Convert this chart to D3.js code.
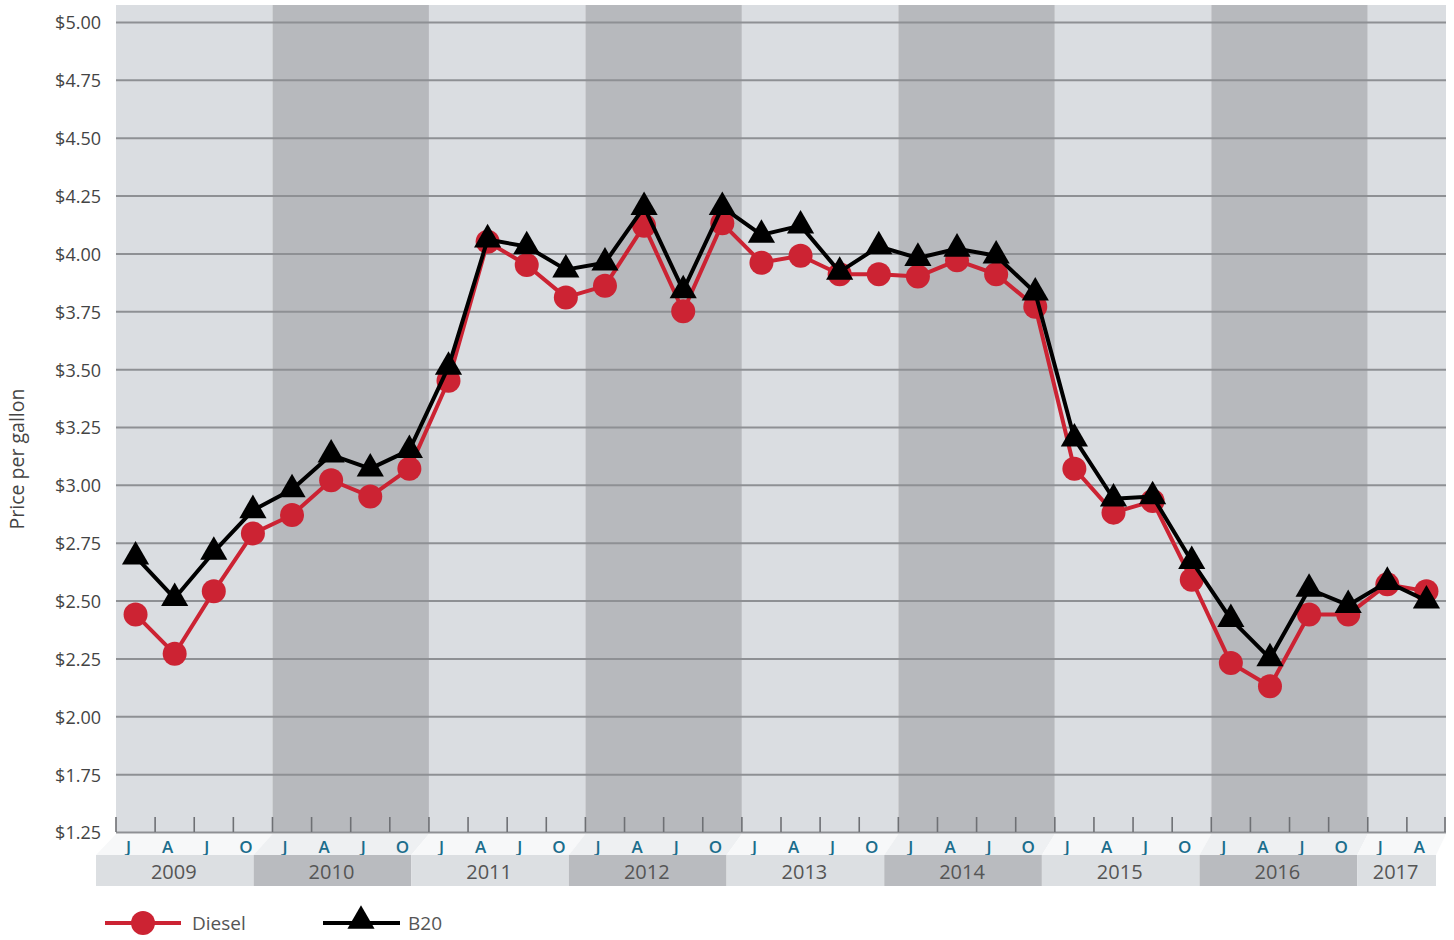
<!DOCTYPE html>
<html><head><meta charset="utf-8">
<script src="https://cdn.jsdelivr.net/npm/d3@7"></script>
<style>
html,body{margin:0;padding:0;background:#fff;}
svg{display:block;font-family:"Open Sans","Noto Sans",sans-serif;}
</style></head>
<body>
<svg id="chart" width="1454" height="940"></svg>
<script>
const years = ["2009","2010","2011","2012","2013","2014","2015","2016","2017"];
const quarterLetters = ["J","A","J","O"];
const quartersPerYear = [4,4,4,4,4,4,4,4,2];
const diesel = [2.44,2.27,2.54,2.79, 2.87,3.02,2.95,3.07, 3.45,4.05,3.95,3.81, 3.86,4.12,3.75,4.13,
                3.96,3.99,3.91,3.91, 3.90,3.97,3.91,3.77, 3.07,2.88,2.93,2.59, 2.23,2.13,2.44,2.44, 2.57,2.54];
const b20 = [2.69,2.51,2.71,2.89, 2.98,3.13,3.07,3.15, 3.51,4.06,4.03,3.93, 3.96,4.20,3.84,4.20,
             4.08,4.12,3.92,4.03, 3.98,4.02,3.99,3.83, 3.20,2.94,2.95,2.67, 2.42,2.25,2.55,2.48, 2.58,2.50];
const yTickValues = [1.5,1.75,2.0,2.25,2.5,2.75,3.0,3.25,3.5,3.75,4.0,4.25,4.5,4.75,5.0];
const yTickLabels = ["$1.25","$1.75","$2.00","$2.25","$2.50","$2.75","$3.00","$3.25","$3.50","$3.75","$4.00","$4.25","$4.50","$4.75","$5.00"];
const seriesNames = ["Diesel","B20"];

(function(){
const quarters = [];
years.forEach((yr,yi)=>{ for(let q=0;q<quartersPerYear[yi];q++) quarters.push({id:yr+"-"+q, year:yr, yi:yi, label:quarterLetters[q]}); });

const svg = d3.select("#chart");
const pLeft=116, pRight=1446, pTop=5, pBottom=832;
const x = d3.scaleBand().domain(quarters.map(d=>d.id)).range([pLeft,pRight]).padding(0);
const bw = x.bandwidth();
const y = d3.scaleLinear().domain([1.5,5]).range([pBottom,22]);
const cx = i => x(quarters[i].id)+bw/2;
const xb = d3.scaleLinear().domain([pLeft,pRight]).range([96,1436]);

const light="#dadde1", dark="#b7b9bd";

const yearInfo = years.map((yr,yi)=>{
  const qs = quarters.filter(q=>q.yi===yi);
  return {year:yr, yi:yi, x0:x(qs[0].id), x1:x(qs[qs.length-1].id)+bw};
});
svg.append("g").selectAll("rect").data(yearInfo).join("rect")
  .attr("x",d=>d.x0).attr("y",pTop).attr("width",d=>d.x1-d.x0).attr("height",pBottom-pTop)
  .attr("fill",d=>d.yi%2? dark: light);

svg.append("g").selectAll("line").data(yTickValues).join("line")
  .attr("x1",pLeft).attr("x2",pRight).attr("y1",d=>y(d)+0.5).attr("y2",d=>y(d)+0.5)
  .attr("stroke","#8e9094").attr("stroke-width",2);

svg.append("g").selectAll("text").data(yTickValues).join("text")
  .attr("x",101).attr("y",d=>y(d)+1).attr("dy","0.36em").attr("text-anchor","end")
  .attr("font-size",18).attr("fill","#444").text((d,i)=>yTickLabels[i]);

svg.append("text").attr("transform","translate(24,459) rotate(-90)").attr("text-anchor","middle")
  .attr("font-size",19.5).attr("fill","#444").text("Price per gallon");

const tickXs = quarters.map(q=>x(q.id)).concat([pRight-1]);
svg.append("g").selectAll("line").data(tickXs).join("line")
  .attr("x1",d=>d).attr("x2",d=>d).attr("y1",817).attr("y2",pBottom)
  .attr("stroke","#6e7074").attr("stroke-width",1.6);

svg.append("g").selectAll("path").data(yearInfo).join("path")
  .attr("d",d=>`M${d.x0},834 L${d.x1},834 L${xb(d.x1)},855 L${xb(d.x0)},855 Z`)
  .attr("fill",d=>d.yi%2? "#eef0f2":"#f7f8f9");

svg.append("g").selectAll("text").data(quarters).join("text")
  .attr("x",(d,i)=>cx(i)-7).attr("y",853).attr("text-anchor","middle")
  .attr("font-size",17).attr("font-weight",600).attr("fill","#1b6d8c").text(d=>d.label);

svg.append("g").selectAll("rect").data(yearInfo).join("rect")
  .attr("x",d=>xb(d.x0)).attr("y",855).attr("width",d=>xb(d.x1)-xb(d.x0)).attr("height",31)
  .attr("fill",d=>d.yi%2? "#b9bbbf":"#dcdfe2");
svg.append("g").selectAll("text").data(yearInfo).join("text")
  .attr("x",d=>(xb(d.x0)+xb(d.x1))/2-1).attr("y",879).attr("text-anchor","middle")
  .attr("font-size",20).attr("fill","#555").text(d=>d.year);

const lineGen = d3.line().x((d,i)=>cx(i)).y(d=>y(d));
const red="#cc2333";
svg.append("path").datum(diesel).attr("d",lineGen).attr("fill","none").attr("stroke",red).attr("stroke-width",4).attr("stroke-linejoin","round");
svg.append("g").selectAll("circle").data(diesel).join("circle")
  .attr("cx",(d,i)=>cx(i)).attr("cy",d=>y(d)).attr("r",12).attr("fill",red);

svg.append("path").datum(b20).attr("d",lineGen).attr("fill","none").attr("stroke","#000").attr("stroke-width",4).attr("stroke-linejoin","round");
const tri = d3.symbol().type(d3.symbolTriangle).size(320);
svg.append("g").selectAll("path").data(b20).join("path")
  .attr("transform",(d,i)=>`translate(${cx(i)},${y(d)})`).attr("d",tri).attr("fill","#000");

const lg = svg.append("g");
lg.append("line").attr("x1",105).attr("x2",181).attr("y1",923).attr("y2",923).attr("stroke",red).attr("stroke-width",4);
lg.append("circle").attr("cx",143).attr("cy",923).attr("r",12).attr("fill",red);
lg.append("text").attr("x",192).attr("y",930).attr("font-size",19).attr("fill","#555").text(seriesNames[0]);
lg.append("line").attr("x1",323).attr("x2",400).attr("y1",923).attr("y2",923).attr("stroke","#000").attr("stroke-width",4);
lg.append("path").attr("transform","translate(361,921)").attr("d",tri).attr("fill","#000");
lg.append("text").attr("x",408).attr("y",930).attr("font-size",19).attr("fill","#555").text(seriesNames[1]);
})();
</script>
</body></html>
